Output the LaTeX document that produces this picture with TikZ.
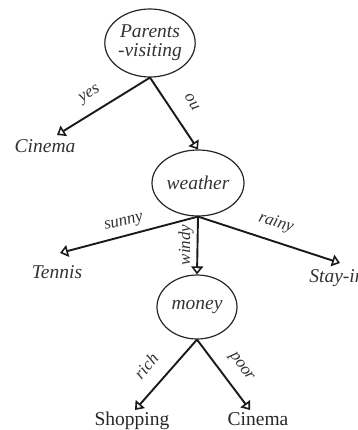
\documentclass[tikz,border=0pt]{standalone}
\usepackage{fontspec}
\setmainfont{Liberation Serif}
\usetikzlibrary{arrows.meta,shapes.geometric}
\tikzset{
  dnode/.style={ellipse,draw=black!85,line width=1.2pt,inner sep=0pt,font=\fontsize{19.5}{22}\selectfont\itshape,text=black!80,align=center},
  leafi/.style={inner sep=0pt,anchor=north,font=\fontsize{19.5}{22}\selectfont\itshape,text=black!80},
  leafu/.style={inner sep=0pt,anchor=north,font=\fontsize{19.5}{22}\selectfont,text=black!85},
  elab/.style={inner sep=0pt,font=\fontsize{17}{19}\selectfont\itshape,text=black!80},
  arr/.style={line width=1.9pt,draw=black!90,-{Triangle[open,length=8pt,width=12pt,line width=1.6pt]}}
}
\begin{document}
\begin{tikzpicture}[x=1pt,y=-1pt]
\useasboundingbox (0,0) rectangle (357,430);
\node[dnode,minimum width=86pt,minimum height=68pt] (pv) at (150,43) {Parents\\[-3pt]-visiting};
\node[dnode,minimum width=92pt,minimum height=66pt] (we) at (198,183) {weather};
\node[dnode,minimum width=80pt,minimum height=64pt] (mo) at (197,307) {money};
\node[leafi] (cin1) at (45,139) {Cinema};
\node[leafi] (ten) at (57,265) {Tennis};
\node[leafi] (sty) at (337,269) {Stay-in};
\node[leafu] (shp) at (132,412) {Shopping};
\node[leafu] (cin2) at (258,412) {Cinema};
\draw[arr] (pv.south) -- ([xshift=12pt,yshift=4pt]cin1.north);
\draw[arr] (pv.south) -- (we.north);
\draw[arr] (we.south) -- ([xshift=3pt,yshift=12pt]ten.north);
\draw[arr] (we.south) -- (mo.north);
\draw[arr] (we.south) -- ([xshift=3pt,yshift=6pt]sty.north);
\draw[arr] (mo.south) -- ([xshift=3pt,yshift=2pt]shp.north);
\draw[arr] (mo.south) -- ([xshift=-8pt,yshift=2pt]cin2.north);
\node[elab,rotate=32] (lyes) at (90,95) {yes};
\node[elab,rotate=122] (lno) at (192,102) {no};
\node[elab,rotate=14] (lsun) at (124,223) {sunny};
\node[elab,rotate=90] (lwin) at (186,245) {windy};
\node[elab,rotate=-18] (lrai) at (276,223) {rainy};
\node[elab,rotate=50] (lric) at (146,366) {rich};
\node[elab,rotate=-55] (lpoo) at (241,367) {poor};
\end{tikzpicture}
\end{document}
